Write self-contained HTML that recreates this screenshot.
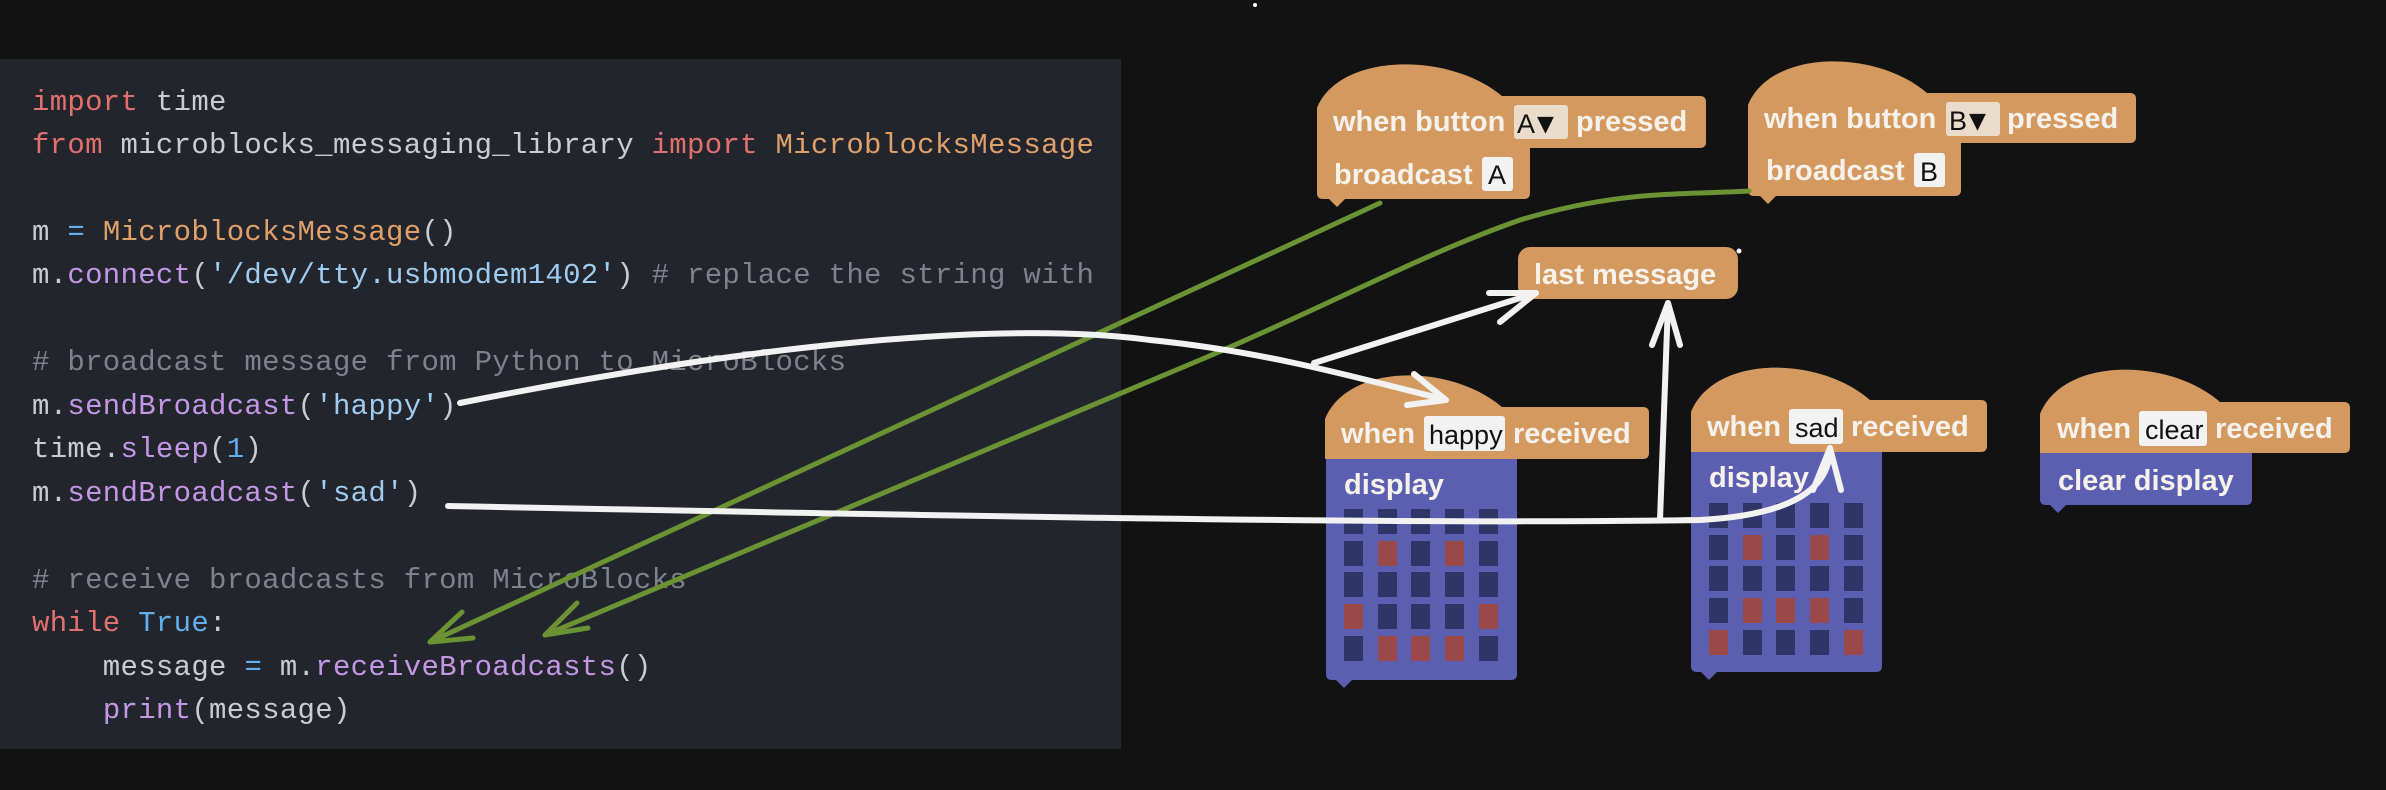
<!DOCTYPE html>
<html><head><meta charset="utf-8"><style>
html,body{margin:0;padding:0;background:#121212;}
svg{display:block}
.c{font-family:"Liberation Mono",monospace;font-size:29px;letter-spacing:0.3px;fill:#c8ccd4;white-space:pre}
.k{fill:#e2706f}.o{fill:#e0a06a}.p{fill:#c397e6}.s{fill:#9ecbf0}.g{fill:#7d828c}.b{fill:#61afef}
.bt{font-family:"Liberation Sans",sans-serif;font-weight:bold;font-size:29px;fill:#f6f1ea}
.it{font-family:"Liberation Sans",sans-serif;font-size:27px;fill:#111}
</style></head><body>
<svg width="2386" height="790" viewBox="0 0 2386 790" xmlns="http://www.w3.org/2000/svg">
<rect width="2386" height="790" fill="#121212"/>
<circle cx="1255" cy="5" r="2" fill="#fff"/>
<rect x="0" y="59" width="1121" height="690" fill="#22252c"/>
<text class="c" xml:space="preserve">
<tspan x="32" y="110"><tspan class="k">import</tspan> time</tspan>
<tspan x="32" y="153"><tspan class="k">from</tspan> microblocks_messaging_library <tspan class="k">import</tspan> <tspan class="o">MicroblocksMessage</tspan></tspan>
<tspan x="32" y="240">m <tspan class="b">=</tspan> <tspan class="o">MicroblocksMessage</tspan>()</tspan>
<tspan x="32" y="283">m.<tspan class="p">connect</tspan>(<tspan class="s">'/dev/tty.usbmodem1402'</tspan>) <tspan class="g"># replace the string with</tspan></tspan>
<tspan x="32" y="370" class="g"># broadcast message from Python to MicroBlocks</tspan>
<tspan x="32" y="414">m.<tspan class="p">sendBroadcast</tspan>(<tspan class="s">'happy'</tspan>)</tspan>
<tspan x="32" y="457">time.<tspan class="p">sleep</tspan>(<tspan class="b">1</tspan>)</tspan>
<tspan x="32" y="501">m.<tspan class="p">sendBroadcast</tspan>(<tspan class="s">'sad'</tspan>)</tspan>
<tspan x="32" y="588" class="g"># receive broadcasts from MicroBlocks</tspan>
<tspan x="32" y="631"><tspan class="k">while</tspan> <tspan class="b">True</tspan>:</tspan>
<tspan x="32" y="675">    message <tspan class="b">=</tspan> m.<tspan class="p">receiveBroadcasts</tspan>()</tspan>
<tspan x="32" y="718">    <tspan class="p">print</tspan>(message)</tspan>
</text>

<g fill="#d3995f">
<path d="M1317,148 L1317,108 C1340,52 1450,52 1502,96 L1700,96 Q1706,96 1706,102 L1706,142 Q1706,148 1700,148 Z"/>
<path d="M1317,148 L1530,148 L1530,193 Q1530,199 1524,199 L1345,199 L1337,207 L1329,199 L1323,199 Q1317,199 1317,193 Z"/>
<path d="M1748,143 L1748,105 C1771,49 1876,49 1927,93 L2130,93 Q2136,93 2136,99 L2136,137 Q2136,143 2130,143 Z"/>
<path d="M1748,143 L1961,143 L1961,190 Q1961,196 1955,196 L1776,196 L1768,204 L1760,196 L1754,196 Q1748,196 1748,190 Z"/>
<rect x="1518" y="247" width="220" height="52" rx="12"/>
<path d="M1325,459 L1325,419 C1348,363 1450,363 1502,407 L1643,407 Q1649,407 1649,413 L1649,453 Q1649,459 1643,459 Z"/>
<path d="M1691,452 L1691,412 C1714,355 1818,355 1870,400 L1981,400 Q1987,400 1987,406 L1987,446 Q1987,452 1981,452 Z"/>
<path d="M2040,453 L2040,414 C2063,357 2168,357 2220,402 L2344,402 Q2350,402 2350,408 L2350,447 Q2350,453 2344,453 Z"/>
</g>
<g fill="#5a5fb1">
<path d="M1326,459 L1517,459 L1517,674 Q1517,680 1511,680 L1352,680 L1344,688 L1336,680 L1332,680 Q1326,680 1326,674 Z"/>
<path d="M1691,452 L1882,452 L1882,666 Q1882,672 1876,672 L1717,672 L1709,680 L1701,672 L1697,672 Q1691,672 1691,666 Z"/>
<path d="M2040,453 L2252,453 L2252,499 Q2252,505 2246,505 L2066,505 L2058,513 L2050,505 L2046,505 Q2040,505 2040,499 Z"/>
</g>
<rect x="1514" y="105" width="54" height="34" rx="3" fill="#eadccb"/>
<rect x="1946" y="102" width="54" height="34" rx="3" fill="#eadccb"/>
<rect x="1482" y="157" width="31" height="34" rx="3" fill="#f2f2f2"/>
<rect x="1914" y="153" width="31" height="34" rx="3" fill="#f2f2f2"/>
<rect x="1424" y="416" width="81" height="35" rx="3" fill="#f2f2f2"/>
<rect x="1789" y="409" width="54" height="35" rx="3" fill="#f2f2f2"/>
<rect x="2139" y="411" width="68" height="35" rx="3" fill="#f2f2f2"/>

<text class="bt" x="1333" y="131">when button</text>
<text class="it" x="1517" y="133">A</text><text x="1537" y="131" font-family="DejaVu Sans" font-size="22" fill="#111">▼</text>
<text class="bt" x="1576" y="131">pressed</text>
<text class="bt" x="1334" y="184">broadcast</text><text class="it" x="1488" y="184">A</text>

<text class="bt" x="1764" y="128">when button</text>
<text class="it" x="1949" y="130">B</text><text x="1969" y="128" font-family="DejaVu Sans" font-size="22" fill="#111">▼</text>
<text class="bt" x="2007" y="128">pressed</text>
<text class="bt" x="1766" y="180">broadcast</text><text class="it" x="1920" y="181">B</text>

<text class="bt" x="1534" y="284">last message</text>

<text class="bt" x="1341" y="443">when</text><text class="it" x="1429" y="444">happy</text><text class="bt" x="1513" y="443">received</text>
<text class="bt" x="1707" y="436">when</text><text class="it" x="1795" y="437">sad</text><text class="bt" x="1851" y="436">received</text>
<text class="bt" x="2057" y="438">when</text><text class="it" x="2145" y="439">clear</text><text class="bt" x="2215" y="438">received</text>

<text class="bt" x="1344" y="494">display</text>
<text class="bt" x="1709" y="487">display</text>
<text class="bt" x="2058" y="490">clear display</text>

<g fill="#2f3566">
<rect x="1344" y="509" width="19" height="25"/><rect x="1378" y="509" width="19" height="25"/><rect x="1411" y="509" width="19" height="25"/><rect x="1445" y="509" width="19" height="25"/><rect x="1479" y="509" width="19" height="25"/>
<rect x="1344" y="541" width="19" height="25"/><rect x="1411" y="541" width="19" height="25"/><rect x="1479" y="541" width="19" height="25"/>
<rect x="1344" y="572" width="19" height="25"/><rect x="1378" y="572" width="19" height="25"/><rect x="1411" y="572" width="19" height="25"/><rect x="1445" y="572" width="19" height="25"/><rect x="1479" y="572" width="19" height="25"/>
<rect x="1378" y="604" width="19" height="25"/><rect x="1411" y="604" width="19" height="25"/><rect x="1445" y="604" width="19" height="25"/>
<rect x="1344" y="636" width="19" height="25"/><rect x="1479" y="636" width="19" height="25"/>
<rect x="1709" y="503" width="19" height="25"/><rect x="1743" y="503" width="19" height="25"/><rect x="1776" y="503" width="19" height="25"/><rect x="1810" y="503" width="19" height="25"/><rect x="1844" y="503" width="19" height="25"/>
<rect x="1709" y="535" width="19" height="25"/><rect x="1776" y="535" width="19" height="25"/><rect x="1844" y="535" width="19" height="25"/>
<rect x="1709" y="566" width="19" height="25"/><rect x="1743" y="566" width="19" height="25"/><rect x="1776" y="566" width="19" height="25"/><rect x="1810" y="566" width="19" height="25"/><rect x="1844" y="566" width="19" height="25"/>
<rect x="1709" y="598" width="19" height="25"/><rect x="1844" y="598" width="19" height="25"/>
<rect x="1743" y="630" width="19" height="25"/><rect x="1776" y="630" width="19" height="25"/><rect x="1810" y="630" width="19" height="25"/>
</g>
<g fill="#9a4848">
<rect x="1378" y="541" width="19" height="25"/><rect x="1445" y="541" width="19" height="25"/>
<rect x="1344" y="604" width="19" height="25"/><rect x="1479" y="604" width="19" height="25"/>
<rect x="1378" y="636" width="19" height="25"/><rect x="1411" y="636" width="19" height="25"/><rect x="1445" y="636" width="19" height="25"/>
<rect x="1743" y="535" width="19" height="25"/><rect x="1810" y="535" width="19" height="25"/>
<rect x="1743" y="598" width="19" height="25"/><rect x="1776" y="598" width="19" height="25"/><rect x="1810" y="598" width="19" height="25"/>
<rect x="1709" y="630" width="19" height="25"/><rect x="1844" y="630" width="19" height="25"/>
</g>

<g stroke="#6b9334" stroke-width="5" fill="none" stroke-linecap="round" stroke-linejoin="round">
<path d="M1380,203 L430,642"/>
<path d="M462,612 L430,642 L473,638"/>
<path d="M1749,191 C1680,195 1620,190 1520,220 C1420,255 1330,305 1200,360 L545,635"/>
<path d="M577,603 L545,635 L588,628"/>
</g>
<g stroke="#f2f2f2" stroke-width="6" fill="none" stroke-linecap="round" stroke-linejoin="round">
<path d="M460,403 C750,345 1000,320 1150,340 C1250,350 1330,370 1446,400"/>
<path d="M1414,374 L1446,400 L1407,405"/>
<path d="M1314,363 L1536,293"/>
<path d="M1489,293 L1536,293 L1500,322"/>
<path d="M448,506 C900,515 1400,525 1700,520 C1790,515 1830,490 1830,448"/>
<path d="M1813,490 L1830,448 L1841,490"/>
<path d="M1660,520 L1668,303"/>
<path d="M1652,345 L1668,303 L1680,345"/>
</g>
<circle cx="1739" cy="251" r="2.5" fill="#fff"/>
</svg>
</body></html>
